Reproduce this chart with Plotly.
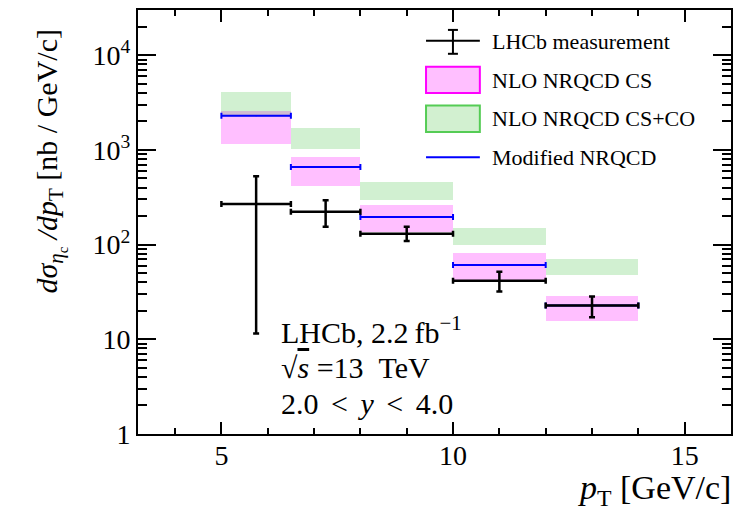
import plotly.graph_objects as go

# pT bins [GeV/c]
bin_lo = [5.0, 6.5, 8.0, 10.0, 12.0]
bin_hi = [6.5, 8.0, 10.0, 12.0, 14.0]

# LHCb measurement: points, and upper / lower ends of the total uncertainty
lhcb_pt = [5.75, 7.25, 9.0, 11.0, 13.0]
lhcb_val = [269.0, 222.0, 130.0, 41.6, 22.7]
lhcb_up = [526.0, 294.0, 154.0, 51.7, 28.3]
lhcb_down = [11.5, 154.0, 109.0, 31.9, 17.1]

# NLO NRQCD colour-singlet band (low, high)
cs_low = [1148.0, 413.0, 137.0, 42.3, 15.5]
cs_high = [2572.0, 832.0, 261.0, 81.2, 28.9]

# NLO NRQCD CS+CO band (low, high)
co_low = [2200.0, 1017.0, 299.0, 99.3, 47.3]
co_high = [4100.0, 1718.0, 458.0, 151.0, 70.3]

# Modified NRQCD prediction
mod_val = [2296.0, 658.0, 195.0, 60.8, 22.7]

FONT = "Liberation Serif, Times New Roman, serif"
PINK_FILL = "rgba(255,0,255,0.25)"
GREEN_FILL = "rgba(0,170,0,0.18)"

centers = [(a + b) / 2 for a, b in zip(bin_lo, bin_hi)]
widths = [b - a for a, b in zip(bin_lo, bin_hi)]
halfw = [w / 2 for w in widths]

fig = go.Figure()

# theory bands as floating bars
fig.add_trace(go.Bar(
    x=centers, y=[h - l for l, h in zip(cs_low, cs_high)], base=cs_low,
    width=widths, marker=dict(color=PINK_FILL, line=dict(width=0)),
    showlegend=False, hoverinfo="skip"))
fig.add_trace(go.Bar(
    x=centers, y=[h - l for l, h in zip(co_low, co_high)], base=co_low,
    width=widths, marker=dict(color=GREEN_FILL, line=dict(width=0)),
    showlegend=False, hoverinfo="skip"))

# modified NRQCD horizontal segments
fig.add_trace(go.Scatter(
    x=centers, y=mod_val, mode="markers",
    marker=dict(size=1, color="#0000ff"),
    error_x=dict(type="data", array=halfw, symmetric=True,
                 color="#0000ff", thickness=2, width=3),
    showlegend=False, hoverinfo="skip"))

# LHCb horizontal bin-width bars
fig.add_trace(go.Scatter(
    x=centers, y=lhcb_val, mode="markers",
    marker=dict(size=1, color="black"),
    error_x=dict(type="data", array=halfw, symmetric=True,
                 color="black", thickness=2.5, width=3),
    showlegend=False, hoverinfo="skip"))

# LHCb vertical uncertainties
fig.add_trace(go.Scatter(
    x=lhcb_pt, y=lhcb_val, mode="markers",
    marker=dict(size=2, color="black"),
    error_y=dict(type="data", symmetric=False,
                 array=[u - v for u, v in zip(lhcb_up, lhcb_val)],
                 arrayminus=[v - d for v, d in zip(lhcb_val, lhcb_down)],
                 color="black", thickness=2.5, width=3),
    showlegend=False, hoverinfo="skip"))

L, R, T, B = 138, 8, 8, 82
W, H = 741, 516
PW, PH = W - L - R, H - T - B


def px(xp):
    return (xp - L) / PW


def py(yp):
    return (H - B - yp) / PH


shapes = []
annotations = []

# legend
sx0, sx1, sxm = px(427), px(481), px(454)
shapes += [
    dict(type="line", xref="paper", yref="paper", x0=sx0, x1=sx1, y0=py(39), y1=py(39),
         line=dict(color="black", width=2)),
    dict(type="line", xref="paper", yref="paper", x0=sxm, x1=sxm, y0=py(28), y1=py(52),
         line=dict(color="black", width=2)),
    dict(type="line", xref="paper", yref="paper", x0=px(449), x1=px(459), y0=py(28), y1=py(28),
         line=dict(color="black", width=2)),
    dict(type="line", xref="paper", yref="paper", x0=px(449), x1=px(459), y0=py(52), y1=py(52),
         line=dict(color="black", width=2)),
    dict(type="rect", xref="paper", yref="paper", x0=sx0, x1=sx1, y0=py(65), y1=py(91.5),
         fillcolor="#ffbfff", line=dict(color="#ff00ff", width=2)),
    dict(type="rect", xref="paper", yref="paper", x0=sx0, x1=sx1, y0=py(104), y1=py(130.5),
         fillcolor="#d2f0d0", line=dict(color="#55cc55", width=2)),
    dict(type="line", xref="paper", yref="paper", x0=sx0, x1=sx1, y0=py(156), y1=py(156),
         line=dict(color="#0000ff", width=2)),
]
legend_labels = ["LHCb measurement", "NLO NRQCD CS", "NLO NRQCD CS+CO", "Modified NRQCD"]
legend_y = [40, 79, 117, 156]
for lab, yy in zip(legend_labels, legend_y):
    annotations.append(dict(text=lab, xref="paper", yref="paper", x=px(491), y=py(yy),
                            xanchor="left", yanchor="middle", showarrow=False,
                            font=dict(family=FONT, size=22, color="black")))

# experiment labels
SP = "\u2004\u200a"
info = [
    "LHCb,\u00a02.2\u2009fb<sup>\u22121</sup>",
    "\u221a<span style='text-decoration:overline'><i>s</i></span>\u00a0=13\u00a0\u00a0TeV",
    "2.0" + SP + "&lt;" + SP + "<i>y</i>" + SP + "&lt;" + SP + "4.0",
]
info_y = [330, 367, 403]
for t, yy in zip(info, info_y):
    annotations.append(dict(text=t, xref="paper", yref="paper", x=px(279), y=py(yy),
                            xanchor="left", yanchor="middle", showarrow=False,
                            font=dict(family=FONT, size=30, color="black")))

# axis titles
annotations.append(dict(
    text="<i>p</i><sub>T</sub> [GeV/c]", xref="paper", yref="paper",
    x=px(735), y=py(490), xanchor="right", yanchor="middle", showarrow=False,
    font=dict(family=FONT, size=34, color="black")))
annotations.append(dict(
    text="<i>d\u03c3</i><sub><i>\u03b7</i><sub>c</sub></sub> <i>/dp</i><sub>T</sub> [nb / GeV/c]",
    xref="paper", yref="paper", x=px(50), y=py(160), textangle=-90,
    xanchor="center", yanchor="middle", showarrow=False,
    font=dict(family=FONT, size=30, color="black")))

fig.update_layout(
    width=W, height=H,
    margin=dict(l=L, r=R, t=T, b=B),
    paper_bgcolor="white", plot_bgcolor="white",
    barmode="overlay", bargap=0,
    showlegend=False,
    shapes=shapes, annotations=annotations,
    font=dict(family=FONT, color="black"),
)

fig.update_xaxes(
    range=[3.2, 16], tickvals=[5, 10, 15], ticktext=["5", "10", "15"],
    ticks="inside", ticklen=12, tickwidth=2, tickcolor="black",
    showline=True, linewidth=2, linecolor="black", mirror="allticks",
    showgrid=False, zeroline=False, ticklabelstandoff=-5,
    tickfont=dict(family=FONT, size=28, color="black"),
    minor=dict(ticks="inside", ticklen=6, tickwidth=2, tickcolor="black", dtick=1, tick0=0,
               showgrid=False),
)
fig.update_yaxes(
    type="log", range=[0, 4.477],
    tickvals=[1, 10, 100, 1000, 10000],
    ticktext=["1", "10", "10<sup>2</sup>", "10<sup>3</sup>", "10<sup>4</sup>"],
    ticks="inside", ticklen=18, tickwidth=2, tickcolor="black",
    showline=True, linewidth=2, linecolor="black", mirror="allticks",
    showgrid=False, zeroline=False,
    tickfont=dict(family=FONT, size=28, color="black"),
    minor=dict(ticks="inside", ticklen=9, tickwidth=2, tickcolor="black", dtick="D1",
               showgrid=False),
)

fig.write_html("out.html")
